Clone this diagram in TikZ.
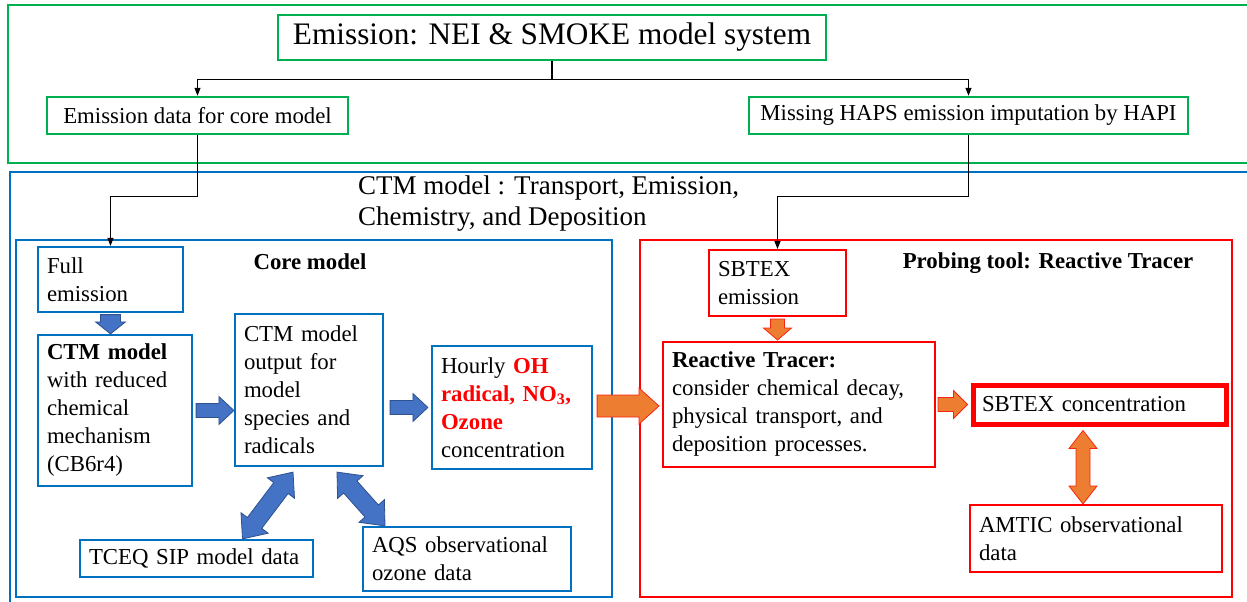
\documentclass[tikz,border=0pt]{standalone}
\usepackage{fontspec}
\setmainfont{Liberation Serif}
\usetikzlibrary{calc,arrows.meta}
\definecolor{gr}{HTML}{00B050}
\definecolor{bl}{HTML}{0070C0}
\definecolor{rd}{HTML}{FF0000}
\definecolor{bfill}{HTML}{4472C4}
\definecolor{bline}{HTML}{2F528F}
\definecolor{ofill}{HTML}{ED7D31}
\newcommand\body{\fontsize{22.8}{28}\selectfont}
\newcommand\mb[1]{\mbox{#1}}
% single block arrow: style, from, to, shaft half, head half, head length
\newcommand\blockarrow[6]{%
  \coordinate (ba1) at ($(#3)!#6!(#2)$);
  \draw[#1] ($(#2)!#4!90:(#3)$) -- ($(ba1)!#4!90:(#3)$) -- ($(ba1)!#5!90:(#3)$) -- (#3)
    -- ($(ba1)!#5!-90:(#3)$) -- ($(ba1)!#4!-90:(#3)$) -- ($(#2)!#4!-90:(#3)$) -- cycle;}
\newcommand\dblarrow[6]{%
  \coordinate (ba0) at ($(#2)!#6!(#3)$);
  \coordinate (ba1) at ($(#3)!#6!(#2)$);
  \draw[#1] (#2) -- ($(ba0)!#5!90:(#3)$) -- ($(ba0)!#4!90:(#3)$) -- ($(ba1)!#4!90:(#3)$)
    -- ($(ba1)!#5!90:(#3)$) -- (#3) -- ($(ba1)!#5!-90:(#3)$) -- ($(ba1)!#4!-90:(#3)$)
    -- ($(ba0)!#4!-90:(#3)$) -- ($(ba0)!#5!-90:(#3)$) -- cycle;}
\begin{document}
\begin{tikzpicture}[x=1pt,y=-1pt,
  gbox/.style={draw=gr,line width=2.5pt,inner sep=0pt,align=center,font=\body},
  bbox/.style={draw=bl,line width=2.2pt,inner xsep=9pt,inner ysep=0pt,align=left,font=\body},
  rbox/.style={draw=rd,line width=2pt,inner xsep=9pt,inner ysep=0pt,align=left,font=\body},
  conn/.style={draw=black,line width=1.3pt,-{Triangle[length=8pt,width=6pt]}},
  barr/.style={fill=bfill,draw=bline,line width=0.8pt},
  oarr/.style={fill=ofill,draw=rd!70!ofill,line width=0.8pt},
  lbl/.style={inner sep=0pt,font=\body\bfseries}]
\clip (0,0) rectangle (1247,602);
\fill[white] (0,0) rectangle (1247,602);
% outer frames
\draw[gr,line width=2.5pt] (8,5) rectangle (1265,163);
\draw[bl,line width=2.2pt] (10,172) rectangle (1265,620);
\draw[bl,line width=2.2pt] (16,240) rectangle (612,597);
\draw[rd,line width=2pt] (640,240) rectangle (1232,597);
% top
\node[gbox,font=\fontsize{31.3}{36}\selectfont,minimum width=548pt,minimum height=45pt] (title) at (552,37.5) {Emission: NEI \& SMOKE model system};
\node[gbox,minimum width=301pt,minimum height=37pt] (ecore) at (197.5,115.5) {Emission data for core model};
\node[gbox,minimum width=439pt,minimum height=37pt] (hapi) at (968.5,115.5) {Missing HAPS emission imputation by HAPI};
\coordinate (split) at ($(title.south)+(0,18)$);
\draw[line width=1.3pt] (title.south) -- (split);
\draw[conn] (split) -| (ecore.north);
\draw[conn] (split) -| (hapi.north);
% CTM label
\node[anchor=north west,inner sep=0pt,align=left,font=\fontsize{27}{31}\selectfont] (ctmlbl) at (358,176) {CTM model : Transport, Emission,\\Chemistry, and Deposition};
% core model
\node[lbl] (corelbl) at (310,262) {Core model};
\node[bbox,text width=127pt,minimum height=65pt] (full) at (110.5,279.5) {Full\\emission};
\node[bbox,text width=136pt,minimum height=151pt] (ctm) at (115,410.5) {\textbf{CTM model}\\\mb{with reduced}\\chemical\\mechanism\\(CB6r4)};
\node[bbox,text width=130pt,minimum height=152pt] (out) at (309,390) {\mb{CTM model}\\\mb{output for}\\model\\\mb{species and}\\radicals};
\node[bbox,text width=142pt,minimum height=123pt] (hourly) at (512,407.5) {Hourly \textcolor{rd}{\textbf{OH}}\\\textcolor{rd}{\textbf{\mb{radical, NO\textsubscript{3},}}}\\\textcolor{rd}{\textbf{Ozone}}\\concentration};
\node[bbox,text width=215pt,minimum height=37pt] (tceq) at (196.5,558.5) {\mb{TCEQ SIP model data}};
\node[bbox,text width=190pt,minimum height=64pt] (aqs) at (467,559) {\mb{AQS observational}\\\mb{ozone data}};
% probing tool
\node[lbl] (problbl) at (1048,263) {Probing tool: Reactive Tracer};
\node[rbox,text width=119pt,minimum height=66pt] (sbtexe) at (777.5,283) {SBTEX\\emission};
\node[rbox,text width=254pt,minimum height=125pt] (react) at (799,404.5) {\textbf{Reactive Tracer:}\\\mb{consider chemical decay,}\\\mb{physical transport, and}\\\mb{deposition processes.}};
\node[rbox,line width=5pt,text width=235pt,minimum height=39pt] (sbtexc) at (1099.5,404.5) {\mb{SBTEX concentration}};
\node[rbox,text width=234pt,minimum height=67pt] (amtic) at (1096,538.5) {\mb{AMTIC observational}\\data};
% black connectors into CTM
\draw[conn] (ecore.south) -- ++(0,61) -| (full.north);
\draw[conn] (hapi.south) -- ++(0,61) -| (sbtexe.north);
% block arrows
\coordinate (a1s) at ($(full.south)+(0,1.5)$);
\coordinate (a1e) at (full.south |- ctm.north);
\blockarrow{barr}{a1s}{a1e}{10pt}{15pt}{12pt}
\coordinate (a2s) at ($(ctm.east)+(3,0)$);
\coordinate (a2e) at (out.west |- ctm.east);
\blockarrow{barr}{a2s}{a2e}{7pt}{14pt}{15pt}
\coordinate (a3s) at ($(out.east |- hourly.west)+(6,0)$);
\coordinate (a3e) at ($(hourly.west)+(-3,0)$);
\blockarrow{barr}{a3s}{a3e}{7pt}{14pt}{15pt}
\coordinate (a4s) at ($(hourly.east)+(4,-1.5)$);
\coordinate (a4e) at ($(react.west |- a4s)+(-3,0)$);
\blockarrow{oarr}{a4s}{a4e}{11pt}{18pt}{20pt}
\coordinate (a5s) at ($(sbtexe.south)+(0,2)$);
\coordinate (a5e) at ($(react.north)+(-21.5,-1)$);
\coordinate (a5e) at (a5s |- a5e);
\blockarrow{oarr}{a5s}{a5e}{7pt}{14pt}{12pt}
\coordinate (a6s) at ($(react.east)+(2,0)$);
\coordinate (a6e) at ($(sbtexc.west)+(-3,0)$);
\blockarrow{oarr}{a6s}{a6e}{7pt}{14pt}{14pt}
\coordinate (d1s) at ($(sbtexc.south)+(-16.5,4)$);
\coordinate (d1e) at (d1s |- amtic.north);
\dblarrow{oarr}{d1s}{d1e}{7pt}{14pt}{18pt}
\coordinate (d2s) at ($(out.south)+(-16,5)$);
\coordinate (d2e) at ($(tceq.north)+(46,0)$);
\dblarrow{barr}{d2s}{d2e}{9pt}{17pt}{20pt}
\coordinate (d3s) at ($(out.south)+(28,5)$);
\coordinate (d3e) at ($(aqs.north)+(-82,0)$);
\dblarrow{barr}{d3s}{d3e}{9pt}{17pt}{20pt}
\end{tikzpicture}
\end{document}
